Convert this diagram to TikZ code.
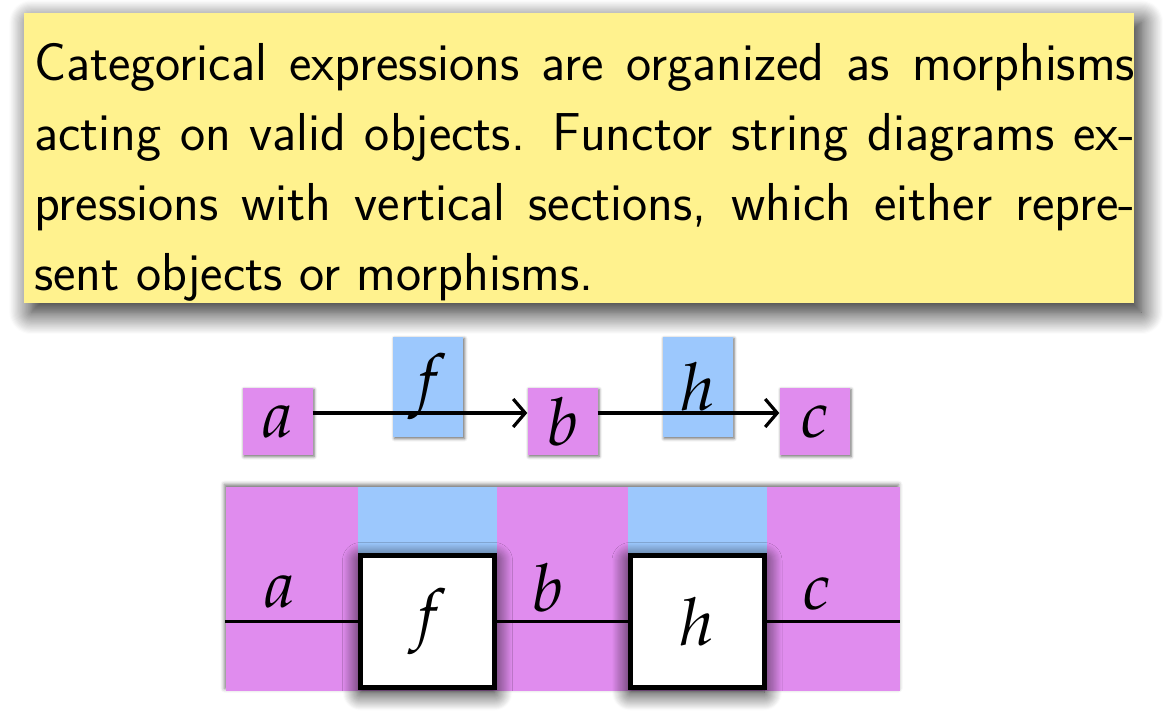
\documentclass[tikz,border=0pt]{standalone}
\usepackage{mathpazo}
\usetikzlibrary{arrows.meta,shadows.blur}
\definecolor{noteyellow}{RGB}{255,242,142}
\definecolor{objpink}{RGB}{224,140,238}
\definecolor{morblue}{RGB}{156,200,253}
\tikzset{
  note/.style={fill=noteyellow, inner sep=0pt, anchor=north west,
    blur shadow={shadow xshift=7pt, shadow yshift=-9pt, shadow blur radius=22pt, shadow blur steps=20, shadow opacity=90}},
  objbox/.style={fill=objpink, inner sep=0pt, minimum width=70pt, minimum height=67pt,
    font=\fontsize{66}{66}\selectfont,
    blur shadow={shadow xshift=1.5pt, shadow yshift=-1.5pt, shadow blur radius=3pt, shadow opacity=60}},
  morbox/.style={fill=morblue, inner sep=0pt, minimum width=70pt, minimum height=100pt,
    font=\fontsize{66}{66}\selectfont,
    blur shadow={shadow xshift=1.5pt, shadow yshift=-1.5pt, shadow blur radius=3pt, shadow opacity=60}},
  arr/.style={line width=3.2pt, -{Straight Barb[length=12pt,width=28pt,line width=3.2pt]}},
  region/.style={fill=objpink, inner sep=0pt, minimum width=674pt, minimum height=204pt,
    blur shadow={shadow xshift=-1pt, shadow yshift=2pt, shadow blur radius=4pt, shadow opacity=55}},
  strip/.style={fill=morblue, inner sep=0pt, minimum width=139pt, minimum height=67pt},
  mbox/.style={fill=white, draw=black, line width=5pt, inner sep=0pt, minimum width=134pt, minimum height=132pt,
    font=\fontsize{66}{66}\selectfont,
    blur shadow={shadow xshift=0pt, shadow yshift=-5pt, shadow blur radius=18pt, shadow blur steps=18, shadow opacity=95}},
  wire/.style={line width=3pt},
  lbl/.style={inner sep=0pt, font=\fontsize{66}{66}\selectfont},
}
\begin{document}
\begin{tikzpicture}[x=1pt,y=-1pt]
\useasboundingbox (0,0) rectangle (1165,716);
% note box
\node[note, minimum width=1110pt, minimum height=290pt] (note) at (24,13) {};
\node[anchor=north west, inner sep=0pt, font=\sffamily\fontsize{53.4}{70}\selectfont, align=left] (txt) at (34,43) {\frenchspacing%
\makebox[1101pt][s]{Categorical expressions are organized as morphisms}\\
\makebox[1101pt][s]{acting on valid objects. Functor string diagrams ex-}\\
\makebox[1101pt][s]{pressions with vertical sections, which either repre-}\\
sent objects or morphisms.};
% top diagram
\node[objbox] (a) at (277.5,421.5) {$a$};
\node[morbox] (f) at (428,387) {$f$};
\node[objbox] (b) at (562.5,421.5) {$b$};
\node[morbox] (h) at (697.5,387) {$h$};
\node[objbox] (c) at (814.5,421.5) {$c$};
\draw[arr] ([yshift=8.5pt]a.east) -- ([yshift=8.5pt]b.west);
\draw[arr] ([yshift=8.5pt]b.east) -- ([yshift=8.5pt]c.west);
% bottom diagram
\node[region] (reg) at (562.5,588.5) {};
\node[strip] (sf) at (427.5,520) {};
\node[strip] (sh) at (697,520) {};
\node[mbox] (F) at (427.5,621.5) {$f$};
\node[mbox] (H) at (697,621.5) {$h$};
\draw[wire] (F.west) -- (F.west -| reg.west);
\draw[wire] (F.east) -- (H.west);
\draw[wire] (H.east) -- (H.east -| reg.east);
\node[lbl] (la) at (280,592) {$a$};
\node[lbl] (lb) at (548,588) {$b$};
\node[lbl] (lc) at (817,594) {$c$};
\end{tikzpicture}
\end{document}
